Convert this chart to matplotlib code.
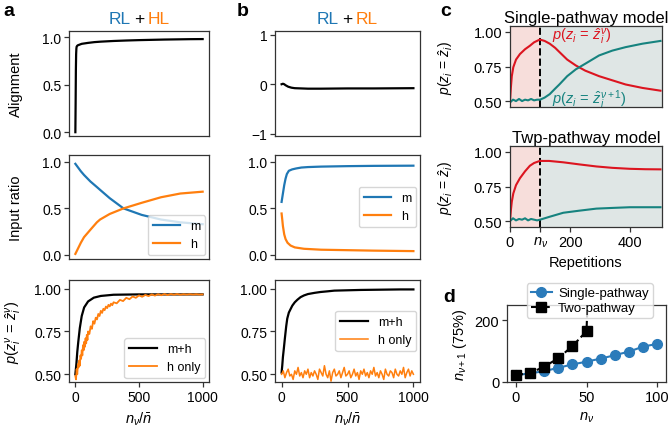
import numpy as np
import matplotlib
matplotlib.use('Agg')
import matplotlib.pyplot as plt

plt.rcParams['font.family'] = ['Liberation Sans', 'DejaVu Sans']
plt.rcParams['mathtext.fontset'] = 'custom'
plt.rcParams['mathtext.rm'] = 'Liberation Sans'
plt.rcParams['mathtext.it'] = 'Liberation Sans:italic'
plt.rcParams['font.size'] = 10
plt.rcParams['axes.linewidth'] = 0.9
plt.rcParams['axes.edgecolor'] = '#333333'

# ---- data ----
# panel a, alignment
a_align_x = [0, 2, 4, 6, 8, 10, 15, 20, 30, 50, 75, 100, 150, 200, 300, 400, 500, 600, 700, 800, 900, 1000]
a_align_y = [0.0, 0.3, 0.65, 0.82, 0.88, 0.9, 0.91, 0.915, 0.92, 0.93, 0.935, 0.94, 0.948, 0.953,
             0.96, 0.965, 0.969, 0.972, 0.975, 0.977, 0.979, 0.98]
# panel a, input ratio
a_ratio_x = [0, 43, 68, 118, 169, 194, 270, 378, 521, 673, 824, 1000]
a_m = [0.98, 0.90, 0.86, 0.79, 0.73, 0.70, 0.61, 0.50, 0.43, 0.38, 0.35, 0.33]
a_h = [0.01, 0.13, 0.19, 0.27, 0.35, 0.38, 0.44, 0.50, 0.56, 0.62, 0.66, 0.68]
# panel a, accuracy
a_mh_x = [0, 8, 15, 23, 35, 50, 69, 100, 145, 200, 300, 500, 1000]
a_mh_y = [0.50, 0.56, 0.63, 0.69, 0.77, 0.84, 0.89, 0.925, 0.947, 0.957, 0.964, 0.966, 0.966]
a_honly_x = list(range(0, 101, 5)) + list(range(110, 301, 10)) + list(range(325, 1001, 25))
a_honly_y = [0.49, 0.47, 0.53, 0.50, 0.56, 0.54, 0.58, 0.55, 0.61, 0.59, 0.64, 0.61, 0.67, 0.64,
             0.69, 0.66, 0.71, 0.68, 0.73, 0.70, 0.75,
             0.735, 0.78, 0.765, 0.81, 0.795, 0.83, 0.82, 0.852, 0.84, 0.87, 0.858, 0.882, 0.874,
             0.895, 0.886, 0.905, 0.896, 0.912, 0.903, 0.92,
             0.914, 0.934, 0.927, 0.946, 0.938, 0.954, 0.946, 0.96, 0.952, 0.963, 0.956, 0.966,
             0.959, 0.967, 0.961, 0.968, 0.962, 0.968, 0.964, 0.968, 0.964, 0.967, 0.965, 0.967,
             0.965, 0.967, 0.965, 0.966]

# panel b, alignment
b_align_x = [0, 10, 20, 30, 50, 75, 100, 150, 200, 300, 500, 700, 1000]
b_align_y = [0.0, 0.01, 0.0, -0.02, -0.05, -0.07, -0.08, -0.085, -0.09, -0.09, -0.085, -0.085, -0.08]
# panel b, input ratio
b_m_x = [0, 10, 20, 30, 40, 55, 80, 110, 150, 200, 300, 500, 700, 1000]
b_m = [0.57, 0.66, 0.75, 0.82, 0.87, 0.905, 0.92, 0.93, 0.94, 0.945, 0.95, 0.955, 0.958, 0.96]
b_h_x = [0, 5, 10, 20, 30, 45, 68, 100, 170, 300, 500, 700, 1000]
b_h = [0.445, 0.38, 0.31, 0.22, 0.17, 0.13, 0.10, 0.08, 0.065, 0.055, 0.05, 0.045, 0.04]
# panel b, accuracy
b_mh_x = [0, 5, 10, 17, 25, 35, 43, 55, 68, 81, 100, 120, 144, 170, 200, 250, 295, 350, 400,
          500, 600, 700, 800, 900, 1000]
b_mh_y = [0.51, 0.55, 0.60, 0.65, 0.71, 0.78, 0.825, 0.86, 0.88, 0.90, 0.92, 0.935, 0.95, 0.96,
          0.968, 0.975, 0.98, 0.984, 0.988, 0.99, 0.992, 0.993, 0.994, 0.995, 0.995]
b_honly_x = np.arange(0, 1000.1, 12.5)
b_honly_y = [0.50, 0.52, 0.48, 0.51, 0.53, 0.49, 0.50, 0.47, 0.52, 0.50,
             0.54, 0.49, 0.51, 0.48, 0.52, 0.50, 0.53, 0.48, 0.51, 0.49,
             0.52, 0.50, 0.47, 0.53, 0.51, 0.49, 0.55, 0.50, 0.48, 0.52,
             0.46, 0.51, 0.53, 0.49, 0.50, 0.52, 0.48, 0.51, 0.54, 0.49,
             0.50, 0.52, 0.48, 0.50, 0.53, 0.49, 0.51, 0.47, 0.52, 0.50,
             0.53, 0.49, 0.51, 0.48, 0.52, 0.50, 0.54, 0.49, 0.51, 0.48,
             0.52, 0.50, 0.47, 0.53, 0.50, 0.49, 0.52, 0.51, 0.48, 0.53,
             0.50, 0.49, 0.52, 0.50, 0.54, 0.48, 0.51, 0.53, 0.49, 0.52, 0.50]

# panel c, single-pathway model
c1_red_x = [0, 3, 6, 11, 20, 33, 50, 66, 80, 99, 115, 132, 150, 164, 190, 219, 250, 296, 340, 384, 440, 500]
c1_red_y = [0.50, 0.60, 0.68, 0.745, 0.80, 0.84, 0.875, 0.90, 0.925, 0.945, 0.935, 0.915, 0.885,
            0.855, 0.80, 0.757, 0.72, 0.68, 0.65, 0.62, 0.595, 0.575]
c1_teal_x = [0, 10, 20, 30, 40, 50, 60, 70, 80, 90, 100, 115, 132, 150, 164, 190, 219, 250, 296,
             340, 384, 440, 500]
c1_teal_y = [0.49, 0.51, 0.50, 0.515, 0.50, 0.51, 0.505, 0.515, 0.505, 0.51, 0.51, 0.525, 0.55,
             0.59, 0.62, 0.68, 0.73, 0.77, 0.83, 0.865, 0.89, 0.915, 0.935]
# panel c, two-pathway model
c2_red_x = [0, 3, 6, 11, 20, 33, 50, 66, 80, 99, 130, 177, 230, 287, 340, 398, 450, 500]
c2_red_y = [0.50, 0.58, 0.64, 0.70, 0.76, 0.81, 0.86, 0.90, 0.92, 0.935, 0.935, 0.925, 0.91,
            0.895, 0.885, 0.878, 0.875, 0.874]
c2_teal_x = [0, 10, 20, 30, 40, 50, 60, 70, 80, 90, 100, 130, 177, 230, 287, 340, 398, 450, 500]
c2_teal_y = [0.50, 0.52, 0.505, 0.515, 0.51, 0.52, 0.505, 0.515, 0.51, 0.505, 0.51, 0.53, 0.56,
             0.575, 0.59, 0.595, 0.60, 0.60, 0.60]
n_nu = 100

# panel d
d_single_x = [0, 10, 20, 30, 40, 50, 60, 70, 80, 90, 100]
d_single_y = [22, 28, 35, 46, 57, 66, 76, 87, 99, 115, 124]
d_two_x = [0, 10, 20, 30, 40, 50, 60]
d_two_y = [22, 29, 49, 77, 116, 165, 1400]

BLUE = '#1f77b4'
ORANGE = '#ff7f0e'
RED = '#dc1520'
TEAL = '#16837f'

W, H = 670, 427
fig = plt.figure(figsize=(W / 100, H / 100), dpi=100)


def box(l, t, r, b):
    return [l / W, 1 - b / H, (r - l) / W, (b - t) / H]


def style(ax):
    ax.tick_params(length=3.5, width=0.9, color='#333333', pad=2)


# ---------- panel a ----------
axa1 = fig.add_axes(box(69, 32, 209, 137))
axa1.plot(a_align_x, a_align_y, color='black', lw=1.6)
axa1.set_ylim(-0.04, 1.065)
axa1.set_yticks([0, 0.5, 1.0])
axa1.set_xticks([])
axa1.set_ylabel('Alignment', fontsize=10.5)

axa2 = fig.add_axes(box(69, 156, 209, 260))
axa2.plot(a_ratio_x, a_m, color=BLUE, lw=1.6, label='m')
axa2.plot(a_ratio_x, a_h, color=ORANGE, lw=1.6, label='h')
axa2.set_ylim(-0.045, 1.075)
axa2.set_yticks([0, 0.5, 1.0])
axa2.set_xticks([])
axa2.set_ylabel('Input ratio', fontsize=10.5)
axa2.legend(loc='lower right', fontsize=9, handlelength=2.2, borderaxespad=0.3)

axa3 = fig.add_axes(box(69, 281, 209, 383))
axa3.plot(a_mh_x, a_mh_y, color='black', lw=1.6, label='m+h')
axa3.plot(a_honly_x, a_honly_y, color=ORANGE, lw=1.3, label='h only')
axa3.set_ylim(0.455, 1.05)
axa3.set_yticks([0.5, 0.75, 1.0])
axa3.set_xticks([0, 500, 1000])
axa3.set_xlabel(r'$n_\nu/\bar{n}$', fontsize=10.5)
axa3.set_ylabel(r'$p(z_i^{\nu}\,=\,\hat{z}_i^{\nu})$', fontsize=10.5)
axa3.legend(loc='lower right', fontsize=9, handlelength=2.2, borderaxespad=0.3)

for ax in (axa1, axa2, axa3):
    ax.set_xlim(-50, 1050)
    ax.yaxis.set_label_coords(-0.33, 0.5)
    style(ax)

# ---------- panel b ----------
axb1 = fig.add_axes(box(275, 32, 420, 137))
axb1.plot(b_align_x, b_align_y, color='black', lw=1.6)
axb1.set_ylim(-1.05, 1.08)
axb1.set_yticks([-1, 0, 1])
axb1.set_yticklabels(['\u22121', '0', '1'])
axb1.set_xticks([])

axb2 = fig.add_axes(box(275, 156, 420, 260))
axb2.plot(b_m_x, b_m, color=BLUE, lw=1.6, label='m')
axb2.plot(b_h_x, b_h, color=ORANGE, lw=1.6, label='h')
axb2.set_ylim(-0.045, 1.075)
axb2.set_yticks([0, 0.5, 1.0])
axb2.set_xticks([])
axb2.legend(loc='center right', fontsize=9, handlelength=2.2, borderaxespad=0.3)

axb3 = fig.add_axes(box(275, 281, 420, 383))
axb3.plot(b_mh_x, b_mh_y, color='black', lw=1.6, label='m+h')
axb3.plot(b_honly_x, b_honly_y, color=ORANGE, lw=1.1, label='h only')
axb3.set_ylim(0.455, 1.05)
axb3.set_yticks([0.5, 0.75, 1.0])
axb3.set_xticks([0, 500, 1000])
axb3.set_xlabel(r'$n_\nu/\bar{n}$', fontsize=10.5)
axb3.legend(loc='center right', fontsize=9, handlelength=2.2, borderaxespad=0.3)

for ax in (axb1, axb2, axb3):
    ax.set_xlim(-50, 1050)
    style(ax)


def two_colour_title(ax, left, right):
    kw = dict(xycoords='axes fraction', textcoords='offset points', va='baseline', fontsize=12.5)
    ax.annotate('+', xy=(0.5, 1.08), xytext=(0, 0), ha='center', color='black', **kw)
    ax.annotate(left, xy=(0.5, 1.08), xytext=(-6, 0), ha='right', color=BLUE, **kw)
    ax.annotate(right, xy=(0.5, 1.08), xytext=(6, 0), ha='left', color=ORANGE, **kw)


two_colour_title(axa1, 'RL', 'HL')
two_colour_title(axb1, 'RL', 'RL')

# ---------- panel c ----------
axc1 = fig.add_axes(box(510, 27, 662, 108))
axc2 = fig.add_axes(box(510, 147, 662, 228))
for ax in (axc1, axc2):
    ax.axvspan(0, n_nu, color='#f7dedb', lw=0)
    ax.axvspan(n_nu, 505, color='#dfe6e5', lw=0)
    ax.axvline(n_nu, color='black', ls='--', lw=1.4)
    ax.set_xlim(0, 505)
    ax.set_ylim(0.457, 1.043)
    ax.set_yticks([0.5, 0.75, 1.0])
    ax.set_ylabel(r'$p(z_i\,=\,\hat{z}_i)$', fontsize=10)
    ax.yaxis.set_label_coords(-0.36, 0.5)
    ax.tick_params(labelsize=10.5)
    style(ax)
axc1.plot(c1_red_x, c1_red_y, color=RED, lw=1.5)
axc1.plot(c1_teal_x, c1_teal_y, color=TEAL, lw=1.5)
axc1.set_xticks([])
axc1.set_title('Single-pathway model', fontsize=12, pad=3)
axc1.text(141, 0.975, r'$p(z_i\,=\,\hat{z}_i^{\nu})$', color=RED, fontsize=10.5, va='center')
axc1.text(141, 0.52, r'$p(z_i\,=\,\hat{z}_i^{\nu+1})$', color=TEAL, fontsize=10.5, va='center')

axc2.plot(c2_red_x, c2_red_y, color=RED, lw=1.5)
axc2.plot(c2_teal_x, c2_teal_y, color=TEAL, lw=1.5)
axc2.set_xticks([0, n_nu, 200, 400])
axc2.set_xticklabels(['0', r'$n_\nu$', '200', '400'])
axc2.set_xlabel('Repetitions', fontsize=10.5)
axc2.set_title('Twp-pathway model', fontsize=12, pad=3)

# ---------- panel d ----------
axd = fig.add_axes(box(507, 306, 666, 383))
axd.plot(d_single_x, d_single_y, color='#2b7bba', marker='o', ms=7, lw=1.5, label='Single-pathway')
axd.plot(d_two_x, d_two_y, color='black', marker='s', ms=7.5, lw=1.5, ls='--', label='Two-pathway')
axd.set_xlim(-6, 106)
axd.set_ylim(0, 250)
axd.set_xticks([0, 50, 100])
axd.set_yticks([0, 200])
axd.tick_params(labelsize=10.5)
axd.set_xlabel(r'$n_\nu$', fontsize=10.5)
axd.set_ylabel(r'$n_{\nu+1}$ (75%)', fontsize=10.5)
axd.legend(loc='upper center', bbox_to_anchor=(0.52, 1.37), fontsize=9.5, handlelength=1.6,
           borderpad=0.3, labelspacing=0.2, handletextpad=0.5)
style(axd)

# panel letters
for x, y, s in [(3, 12, 'a'), (237, 12, 'b'), (440, 12, 'c'), (443, 298, 'd')]:
    fig.text(x / W, 1 - y / H, s, fontsize=14, fontweight='bold', va='center')

fig.savefig('out.png', dpi=100)
